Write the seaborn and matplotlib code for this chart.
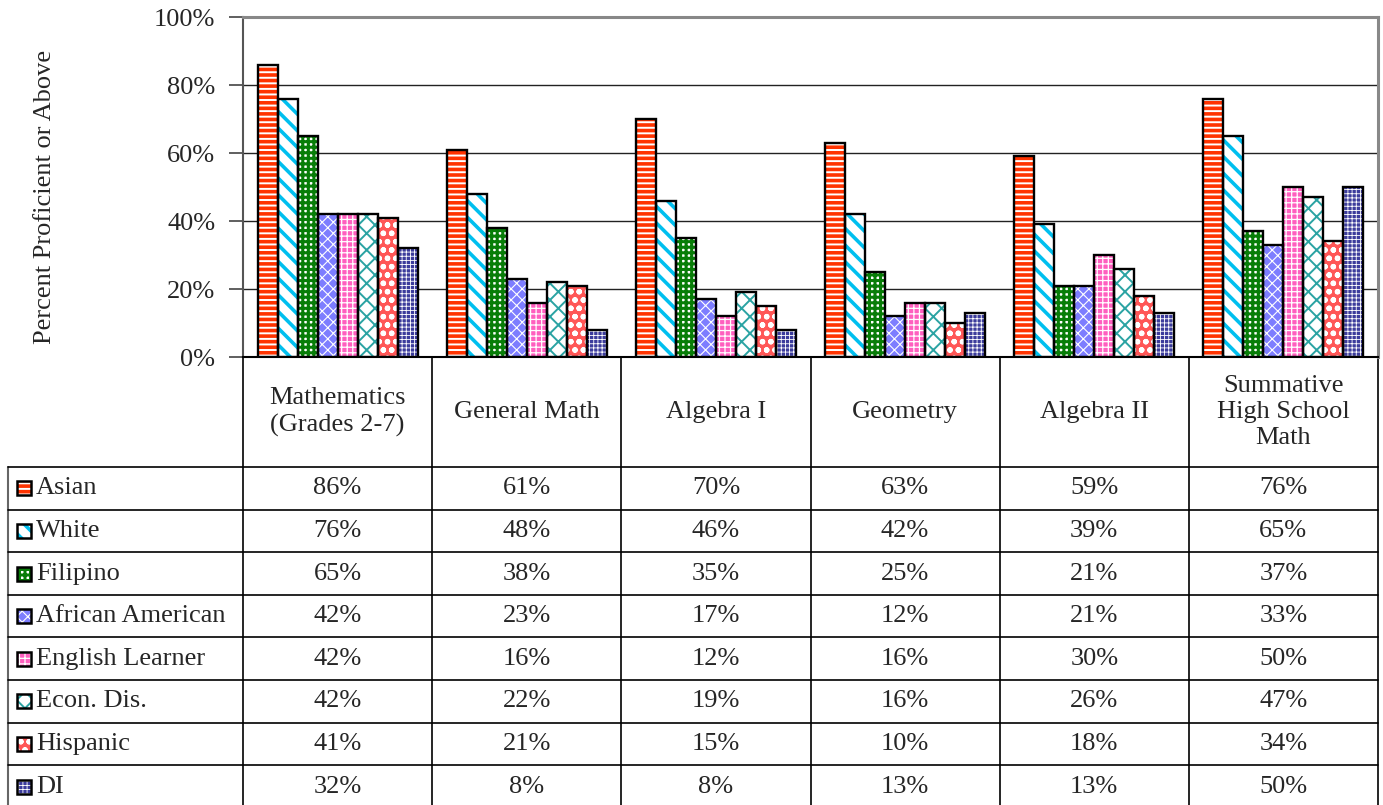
import matplotlib
matplotlib.use("Agg")
import matplotlib.pyplot as plt
from matplotlib.patches import Rectangle
import pandas as pd
import seaborn as sns

# dados
subjects = ["Mathematics\n(Grades 2-7)", "General Math", "Algebra I", "Geometry",
            "Algebra II", "Summative\nHigh School\nMath"]
groups = ["Asian", "White", "Filipino", "African American", "English Learner",
          "Econ. Dis.", "Hispanic", "DI"]
asian = [86, 61, 70, 63, 59, 76]
white = [76, 48, 46, 42, 39, 65]
filipino = [65, 38, 35, 25, 21, 37]
african_american = [42, 23, 17, 12, 21, 33]
english_learner = [42, 16, 12, 16, 30, 50]
econ_dis = [42, 22, 19, 16, 26, 47]
hispanic = [41, 21, 15, 10, 18, 34]
di = [32, 8, 8, 13, 13, 50]
yticks = [0, 20, 40, 60, 80, 100]

series = [asian, white, filipino, african_american, english_learner, econ_dis, hispanic, di]

# estilo de cada serie: fundo, hachura, cor da hachura, espessura
styles = [
    dict(face="white", hatch="---", hc="#ff3300", hlw=2.6),
    dict(face="white", hatch="\\\\", hc="#00bfef", hlw=2.6),
    dict(face="white", hatch="+++", hc="#087d08", hlw=2.2),
    dict(face="#7d7dff", hatch="xxx", hc="white", hlw=0.8),
    dict(face="#ff5fbf", hatch="+++", hc="white", hlw=0.9),
    dict(face="white", hatch="xx", hc="#2aa3a3", hlw=1.4),
    dict(face="#ff5757", hatch="oo", hc="white", hlw=1.6),
    dict(face="#3b3b9c", hatch="++++", hc="white", hlw=0.6),
]

rows = []
for g, vals in zip(groups, series):
    for s, v in zip(subjects, vals):
        rows.append({"subject": s, "group": g, "value": v})
df = pd.DataFrame(rows)

sns.set_theme(style="white")
plt.rcParams["font.family"] = ["Liberation Serif", "DejaVu Serif"]
plt.rcParams["hatch.linewidth"] = 1.4
FS = 19

W, H = 1383, 805
x0, x1, ytop, ybase = 243, 1378, 17, 357
fig = plt.figure(figsize=(W / 100, H / 100), dpi=100)

# eixo para a tabela, em pixels da figura
tab = fig.add_axes([0, 0, 1, 1])
tab.set_xlim(0, W)
tab.set_ylim(H, 0)
tab.axis("off")

ax = fig.add_axes([x0 / W, 1 - ybase / H, (x1 - x0) / W, (ybase - ytop) / H])
sns.barplot(data=df, x="subject", y="value", hue="group", order=subjects,
            hue_order=groups, width=0.845, gap=0, legend=False, errorbar=None,
            saturation=1, ax=ax)


def estilizar(p, st):
    p.set_facecolor(st["face"])
    p.set_edgecolor(st["hc"])
    p.set_linewidth(0)
    p.set_hatch(st["hatch"])
    if hasattr(p, "set_hatch_linewidth"):
        p.set_hatch_linewidth(st["hlw"])


for cont, st in zip(ax.containers, styles):
    for bar in cont:
        estilizar(bar, st)
        ax.add_patch(Rectangle(bar.get_xy(), bar.get_width(), bar.get_height(),
                               fill=False, ec="black", lw=1.7, zorder=bar.get_zorder() + 0.1))

ax.set_xlim(-0.5, len(subjects) - 0.5)
ax.set_ylim(0, 100)
ax.set_yticks(yticks)
ax.set_yticklabels([f"{t}%" for t in yticks], fontsize=FS)
ax.set_xticks([])
ax.set_xlabel("")
ax.set_ylabel("")
ax.set_axisbelow(True)
ax.yaxis.grid(True, color="#222222", lw=1.0)
ax.tick_params(axis="y", direction="out", length=10, width=1.2, color="#444444", pad=10, left=True)
for side, c, lw in [("left", "#555555", 1.5), ("top", "#888888", 2.2),
                    ("right", "#888888", 2.2), ("bottom", "black", 1.5)]:
    ax.spines[side].set_color(c)
    ax.spines[side].set_linewidth(lw)
ax.text(-0.1745, 0.47, "Percent Proficient or Above", rotation=90, ha="center", va="center",
        fontsize=FS, transform=ax.transAxes)

# tabela de dados abaixo do grafico
col_edges = [ax.transData.transform((i - 0.5, 0))[0] for i in range(len(subjects) + 1)]
left_edge = 8
head_bot = 467
row_h = 42.6
row_edges = [head_bot + i * row_h for i in range(len(groups) + 1)]
lc = "black"

for xe in col_edges:
    tab.plot([xe, xe], [ybase, row_edges[-1]], color=lc, lw=1.2, clip_on=False)
tab.plot([left_edge, left_edge], [head_bot, row_edges[-1]], color="#666666", lw=1.5, clip_on=False)
for ye in row_edges:
    tab.plot([left_edge, col_edges[-1]], [ye, ye], color=lc, lw=1.2, clip_on=False)

for i, s in enumerate(subjects):
    cx = (col_edges[i] + col_edges[i + 1]) / 2
    tab.text(cx, (ybase + head_bot) / 2, s, ha="center", va="center", fontsize=FS,
             linespacing=1.25, multialignment="center")

for r, (g, vals, st) in enumerate(zip(groups, series, styles)):
    cy = (row_edges[r] + row_edges[r + 1]) / 2
    mk = Rectangle((17, cy - 7), 14, 14)
    tab.add_patch(mk)
    estilizar(mk, st)
    tab.add_patch(Rectangle((17, cy - 7), 14, 14, fill=False, ec="black", lw=1.8))
    tab.text(36, cy, g, ha="left", va="center", fontsize=FS)
    for i, v in enumerate(vals):
        cx = (col_edges[i] + col_edges[i + 1]) / 2
        tab.text(cx, cy, f"{v}%", ha="center", va="center", fontsize=FS)

fig.savefig("out.png", dpi=100)
